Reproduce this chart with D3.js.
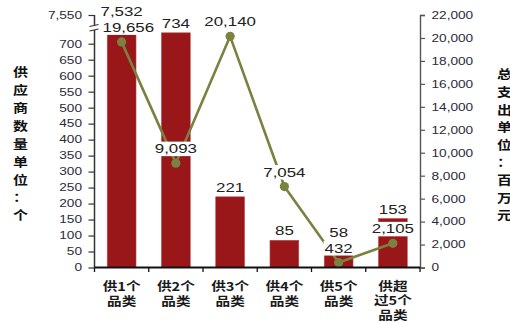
<!DOCTYPE html>
<html>
<head>
<meta charset="utf-8">
<script src="https://cdn.jsdelivr.net/npm/d3@7"></script>
<style>
  html, body { margin: 0; padding: 0; background: #fff; overflow: hidden; }
  svg { display: block; }
</style>
</head>
<body>
<svg id="chart" width="510" height="322"></svg>
<script>
// Supplier count (bars, left axis) and total spend (line, right axis) per category
const categories = ["供1个\n品类", "供2个\n品类", "供3个\n品类", "供4个\n品类", "供5个\n品类", "供超\n过5个\n品类"];
const supplierCounts = [7532, 734, 221, 85, 58, 153];
const totalSpend = [19656, 9093, 20140, 7054, 432, 2105];

const leftTickValues = [0, 50, 100, 150, 200, 250, 300, 350, 400, 450, 500, 550, 600, 650, 700];
const leftBreakTick = [7550];
const rightTickValues = [0, 2000, 4000, 6000, 8000, 10000, 12000, 14000, 16000, 18000, 20000, 22000];

const leftTitle = "供应商数量单位：个";
const rightTitle = "总支出单位：百万元";

// ---- layout ----
const plot = { left: 94.5, right: 420, top: 15, bottom: 267.5 };
const lowTop = 32.5;      // top of the lower (unbroken) segment of the left axis
const breakGap = [25.5, 30];
const SX = 1.3;           // horizontal text stretch
const BAR = "#991619";
const LINE = "#7b8141";
const INK = "#222";
const fmt = d3.format(",");

const svg = d3.select("#chart");

const x = d3.scaleBand().domain(categories)
  .range([plot.left, plot.right]).paddingInner(0.47).paddingOuter(0.235);
const cx = c => x(c) + x.bandwidth() / 2;

const yLow = d3.scaleLinear().domain([0, 735]).range([plot.bottom, lowTop]).clamp(true);
const yHigh = d3.scaleLinear().domain([7500, 7550]).range([26, plot.top]);
const yR = d3.scaleLinear().domain([0, 22000]).range([plot.bottom, plot.top]);

function stretch(sel, sx) {
  sel.each(function () {
    const t = d3.select(this);
    const tx = +t.attr("x") || 0, ty = +t.attr("y") || 0;
    t.attr("x", 0).attr("y", 0).attr("transform", `translate(${tx},${ty}) scale(${sx},1)`);
  });
}

// ---- bars ----
svg.append("g").selectAll("rect").data(supplierCounts).join("rect")
  .attr("x", (d, i) => x(categories[i]))
  .attr("y", d => yLow(d))
  .attr("width", x.bandwidth())
  .attr("height", d => plot.bottom - yLow(d))
  .attr("fill", BAR)
  .attr("stroke", "#b5474a").attr("stroke-width", 0.6);

// ---- spend line ----
const line = d3.line().x((d, i) => cx(categories[i])).y(d => yR(d));
svg.append("path").datum(totalSpend)
  .attr("d", line).attr("fill", "none")
  .attr("stroke", LINE).attr("stroke-width", 2.6).attr("stroke-linejoin", "round");
svg.append("g").selectAll("circle").data(totalSpend).join("circle")
  .attr("cx", (d, i) => cx(categories[i])).attr("cy", d => yR(d))
  .attr("r", 4.6).attr("fill", LINE);

// ---- value labels ----
function label(txt, px, py, opts) {
  const g = svg.append("g").attr("transform", `translate(${px},${py})`);
  const rect = g.append("rect").attr("fill", "#fff");
  const t = g.append("text").text(txt)
    .attr("text-anchor", "middle")
    .attr("font-family", "'Liberation Sans', Arial, sans-serif")
    .attr("font-size", 13).attr("fill", INK)
    .attr("transform", `scale(${SX},1)`);
  const w = t.node().getComputedTextLength() * SX;
  let shift = 0;
  if (opts && opts.keepRightOf !== undefined) {
    const minCenter = opts.keepRightOf + 8 + w / 2;
    if (px < minCenter) shift = minCenter - px;
  }
  g.attr("transform", `translate(${px + shift},${py})`);
  if (opts && opts.bg) {
    rect.attr("x", -w / 2 - 1).attr("y", -11.5).attr("width", w + 2).attr("height", 14.5);
  } else rect.remove();
  return { top: py - 11.5, bottom: py + 3 };
}

// spend labels, boxed in white so they sit on top of bars and line
const spendBoxes = totalSpend.map((v, i) =>
  label(fmt(v), cx(categories[i]), yR(v) - 10, { bg: true, keepRightOf: plot.left }));

// supplier count labels, lifted above a spend label when they would collide
supplierCounts.forEach((v, i) => {
  let py = v > yLow.domain()[1] ? yHigh(v) - 3 : yLow(v) - 5;
  const b = spendBoxes[i];
  if (py > b.top - 1 && py - 10 < b.bottom) py = b.top - 4;
  label(fmt(v), cx(categories[i]), py, { bg: false });
});

// ---- left axis (broken) ----
const tickFont = "'Liberation Sans', Arial, sans-serif";
const gL = svg.append("g").attr("transform", `translate(${plot.left},0)`)
  .call(d3.axisLeft(yLow).tickValues(leftTickValues).tickSize(6).tickPadding(6.5));
const gLH = svg.append("g").attr("transform", `translate(${plot.left},0)`)
  .call(d3.axisLeft(yHigh).tickValues(leftBreakTick).tickFormat(fmt).tickSize(6).tickPadding(6.5));
[gL, gLH].forEach(g => {
  g.select(".domain").remove();
  g.selectAll(".tick line").attr("stroke", "#333").attr("stroke-width", 1.2);
  g.selectAll(".tick text").attr("font-family", tickFont).attr("font-size", 10.5)
    .attr("fill", "#2b2b3a").call(stretch, SX);
});
// axis body with break marks
svg.append("line").attr("x1", plot.left).attr("x2", plot.left)
  .attr("y1", breakGap[1]).attr("y2", plot.bottom).attr("stroke", "#333").attr("stroke-width", 1.5);
svg.append("line").attr("x1", plot.left).attr("x2", plot.left)
  .attr("y1", plot.top).attr("y2", breakGap[0]).attr("stroke", "#333").attr("stroke-width", 1.5);
breakGap.forEach(by => {
  svg.append("line").attr("x1", plot.left - 5).attr("x2", plot.left + 4)
    .attr("y1", by + 1).attr("y2", by - 1).attr("stroke", "#333").attr("stroke-width", 1.2);
});

// ---- right axis ----
const gR = svg.append("g").attr("transform", `translate(${plot.right},0)`)
  .call(d3.axisRight(yR).tickValues(rightTickValues).tickFormat(fmt).tickSize(5).tickPadding(6.5));
gR.select(".domain").attr("stroke", "#555").attr("stroke-width", 1.4);
gR.selectAll(".tick line").attr("stroke", "#555").attr("stroke-width", 1.2);
gR.selectAll(".tick text").attr("font-family", tickFont).attr("font-size", 10.5)
  .attr("fill", "#2b2b3a").call(stretch, SX);

// ---- category axis ----
const gX = svg.append("g").attr("transform", `translate(0,${plot.bottom})`);
gX.append("line").attr("x1", plot.left).attr("x2", plot.right)
  .attr("stroke", "#111").attr("stroke-width", 2);
const bounds = categories.map(c => x(c) - x.step() * x.paddingInner() / 2);
bounds.push(plot.right);
gX.selectAll("line.tk").data(bounds).join("line").attr("class", "tk")
  .attr("x1", d => d).attr("x2", d => d).attr("y1", 0).attr("y2", 4.5)
  .attr("stroke", "#111").attr("stroke-width", 1.3);

const cjk = "'Noto Sans CJK SC', 'Noto Sans CJK JP', sans-serif";
categories.forEach(c => {
  const lines = c.split("\n");
  const gap = lines.length > 2 ? 14.5 : 15;
  lines.forEach((ln, j) => {
    svg.append("text").text(ln)
      .attr("x", cx(c)).attr("y", 290.5 + j * gap)
      .attr("text-anchor", "middle")
      .attr("font-family", cjk).attr("font-weight", "bold").attr("font-size", 12)
      .attr("fill", "#1a1a1a")
      .call(stretch, 1.22);
  });
});

// ---- vertical axis titles ----
function vTitle(str, px, y0, step) {
  Array.from(str).forEach((ch, i) => {
    svg.append("text").text(ch)
      .attr("x", px).attr("y", y0 + i * step)
      .attr("text-anchor", "middle").attr("dominant-baseline", "central")
      .attr("font-family", cjk).attr("font-weight", "bold").attr("font-size", 12.5)
      .attr("fill", "#111")
      .call(stretch, 1.2);
  });
}
vTitle(leftTitle, 20.5, 71.7, 17.9);
vTitle(rightTitle, 504.5, 74, 17.6);
</script>
</body>
</html>
